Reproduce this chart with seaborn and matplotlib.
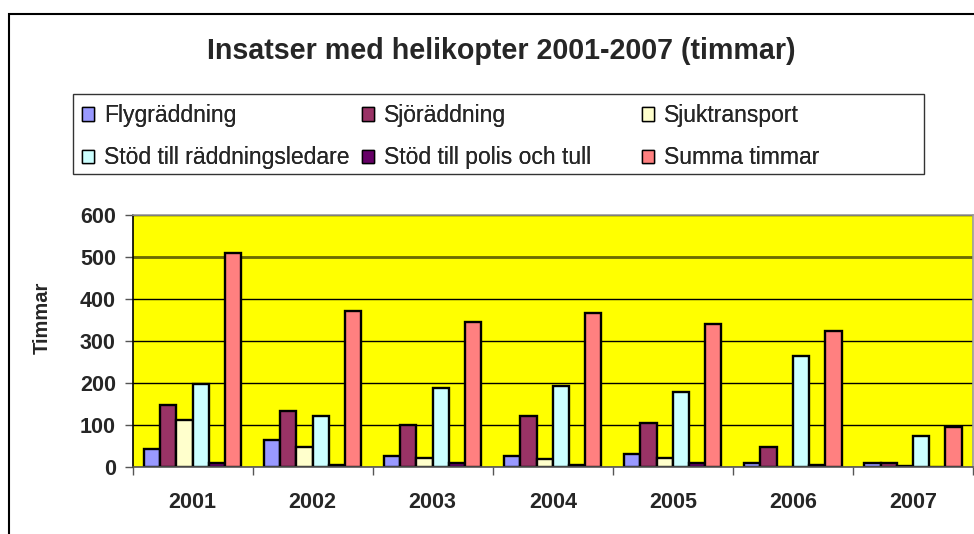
import matplotlib
matplotlib.use("Agg")
import matplotlib.pyplot as plt
import seaborn as sns
import pandas as pd
from matplotlib.patches import Rectangle

years = ["2001", "2002", "2003", "2004", "2005", "2006", "2007"]
series_names = ["Flygräddning", "Sjöräddning", "Sjuktransport",
                "Stöd till räddningsledare", "Stöd till polis och tull", "Summa timmar"]
flyg = [43, 65, 26, 26, 30, 9, 9]
sjo = [147, 134, 99, 121, 104, 47, 9]
sjuk = [112, 47, 21, 18, 22, 0, 3]
stod_radd = [198, 121, 189, 194, 178, 264, 73]
polis = [9, 4, 9, 4, 9, 4, 0]
summa = [510, 372, 345, 367, 341, 324, 95]
colors = ["#9999FF", "#993366", "#FFFFCC", "#CCFFFF", "#660066", "#FF8080"]
yticks = [0, 100, 200, 300, 400, 500, 600]

sns.set_theme(style="white")
plt.rcParams["font.family"] = ["Liberation Sans", "DejaVu Sans"]

values = [flyg, sjo, sjuk, stod_radd, polis, summa]
rows = []
for name, vals in zip(series_names, values):
    for y, v in zip(years, vals):
        rows.append({"År": y, "Serie": name, "Timmar": v})
df = pd.DataFrame(rows)

W, H = 974, 534
fig = plt.figure(figsize=(W / 100, H / 100), dpi=100)
L, R, T, B = 132.5, 973, 215, 467
ax = fig.add_axes([L / W, (H - B) / H, (R - L) / W, (B - T) / H])
ax.set_facecolor("#FFFF00")
ax.set_axisbelow(True)

sns.barplot(data=df, x="År", y="Timmar", hue="Serie", hue_order=series_names,
            order=years, palette=colors, edgecolor="black", linewidth=1.7,
            width=0.81, ax=ax, legend=False, saturation=1)

ax.set_ylim(0, 600)
ax.set_xlim(-0.5, len(years) - 0.5)
ax.set_yticks(yticks)
ax.set_yticklabels([str(t) for t in yticks], fontsize=15.5, fontweight="bold")
ax.yaxis.grid(True, color="black", linewidth=1)
ax.axhline(500, color="#6b6b00", linewidth=2, zorder=0.6)
ax.xaxis.grid(False)
ax.set_xticks(range(len(years)))
ax.set_xticklabels(years, fontsize=15.5, fontweight="bold")
ax.set_xticks([i - 0.5 for i in range(len(years) + 1)], minor=True)
ax.tick_params(axis="x", which="major", length=0, pad=18)
ax.tick_params(axis="x", which="minor", length=6, width=1, color="#555555", direction="out", bottom=True)
ax.tick_params(axis="y", length=6, width=1, color="#555555", direction="out", left=True, pad=6)
ax.set_xlabel("")
ax.set_ylabel("Timmar", fontsize=14.5, fontweight="bold")
ax.yaxis.set_label_coords((52 - L) / (R - L), (B - 318) / (B - T))
for s in ["top", "right"]:
    ax.spines[s].set_color("#999999")
    ax.spines[s].set_linewidth(1.2)
ax.spines["left"].set_color("black")
ax.spines["left"].set_linewidth(1.2)
ax.spines["bottom"].set_color("#555555")
ax.spines["bottom"].set_linewidth(1.2)

fig.text(501 / W, 1 - 51 / H, "Insatser med helikopter 2001-2007 (timmar)",
         ha="center", va="center", fontsize=20.6, fontweight="bold")

# legend frame
fig.patches.append(Rectangle((73 / W, 1 - 174 / H), (924 - 73) / W, (174 - 94) / H,
                             transform=fig.transFigure, fill=False,
                             edgecolor="#333333", linewidth=1.0))
handles = [Rectangle((0, 0), 1, 1, facecolor=c, edgecolor="black", linewidth=1) for c in colors]
col_x = [82, 362, 642]
for j in range(3):
    idx = [j, j + 3]
    leg = fig.legend([handles[i] for i in idx], [series_names[i] for i in idx],
                     loc="upper left", bbox_to_anchor=(col_x[j] / W, 1 - 104 / H),
                     fontsize=16.5, frameon=False,
                     handlelength=0.52, handleheight=0.52, handletextpad=0.43,
                     labelspacing=0.85, borderaxespad=0, borderpad=0)
    fig.add_artist(leg)

fig.patches.append(Rectangle((9 / W, -0.1), 1.2, (1 - 14 / H) + 0.1,
                             transform=fig.transFigure, fill=False,
                             edgecolor="black", linewidth=1.5))

fig.savefig("out.png", dpi=100)
